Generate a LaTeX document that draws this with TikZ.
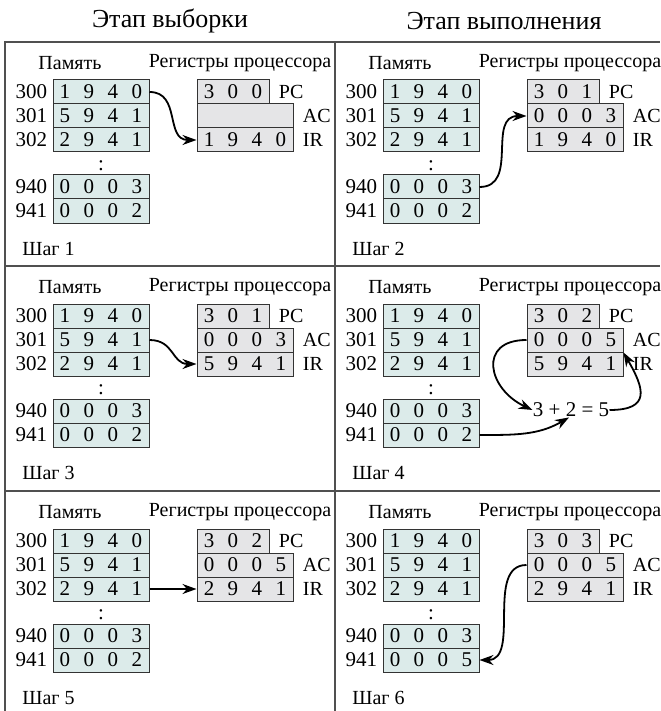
\documentclass[tikz,border=0pt]{standalone}
\usepackage{fontspec}
\setmainfont{Liberation Serif}
\usetikzlibrary{positioning,arrows.meta}

\definecolor{memfill}{RGB}{220,235,234}
\definecolor{regfill}{RGB}{229,229,231}
\definecolor{framegray}{RGB}{80,80,80}

\newcommand{\digitfont}{\fontsize{10.5}{12}\selectfont}
\newcommand{\labelfont}{\fontsize{10}{12}\selectfont}
\newcommand{\dg}[1]{\makebox[12pt]{#1}}
\newcommand{\dgfour}[4]{\dg{#1}\dg{#2}\dg{#3}\dg{#4}}
\newcommand{\dgthree}[3]{\dg{#1}\dg{#2}\dg{#3}}

\tikzset{
  memcell/.style={draw=black!80, fill=memfill, line width=0.5pt, inner sep=0pt,
    minimum width=48pt, minimum height=12pt, font=\digitfont},
  regcell/.style={memcell, fill=regfill},
  addr/.style={inner sep=0pt, font=\digitfont},
  reglbl/.style={inner sep=0pt, font=\labelfont},
  title/.style={inner sep=0pt, font=\labelfont},
  header/.style={inner sep=0pt, font=\fontsize{13}{15}\selectfont},
  frame/.style={draw=framegray, line width=1pt},
  flow/.style={-{Stealth[length=7pt,width=5pt]}, line width=0.9pt},
}

% one step: #1 step number, #2 PC, #3 AC, #4 IR, #5 cell 941
\newcommand{\panel}[5]{%
  \node[title] (mem) at (65,21) {Память};
  \node[title] (regs) at (235,21) {Регистры процессора};
  \node[memcell] (m300) at (96,50) {\dgfour1940};
  \node[memcell] (m301) at (96,74) {\dgfour5941};
  \node[memcell] (m302) at (96,98) {\dgfour2941};
  \node[addr] (dots) at (96,124) {:};
  \node[memcell] (m940) at (96,145) {\dgfour0003};
  \node[memcell] (m941) at (96,169) {#5};
  \foreach \a in {300,301,302,940,941}
    \node[addr, left=2.5pt of m\a] (a\a) {\a};
  \node[regcell, minimum width=36pt] (pc) at (228,50) {#2};
  \node[regcell] (ac) at (240,74) {#3};
  \node[regcell] (ir) at (240,98) {#4};
  \node[reglbl, right=4.5pt of pc] (pclbl) {PC};
  \node[reglbl, right=4.5pt of ac] (aclbl) {AC};
  \node[reglbl, right=4.5pt of ir] (irlbl) {IR};
  \node[title, anchor=west] (step) at (17,207) {Шаг #1};
}

\begin{document}
\begin{tikzpicture}[x=0.5pt,y=-0.5pt]
\useasboundingbox (0,0) rectangle (660,711);

\node[header] (fetch) at (170,21) {Этап выборки};
\node[header] (exec) at (504,21) {Этап выполнения};

% grid
\draw[frame] (5,711) -- (5,42) -- (660,42);
\draw[frame] (335,42) -- (335,711);
\draw[frame] (5,266) -- (660,266);
\draw[frame] (5,491) -- (660,491);

% step 1
\begin{scope}[shift={(5,42)}, name prefix=s1-]
  \panel{1}{\dgthree300}{}{\dgfour1940}{\dgfour0002}
  \draw[flow] (m300.east) to[out=0,in=180,looseness=1.2] (ir.west);
\end{scope}

% step 2
\begin{scope}[shift={(335,42)}, name prefix=s2-]
  \panel{2}{\dgthree301}{\dgfour0003}{\dgfour1940}{\dgfour0002}
  \draw[flow] (m940.east) to[out=0,in=180,looseness=1.2] (ac.west);
\end{scope}

% step 3
\begin{scope}[shift={(5,266)}, name prefix=s3-]
  \panel{3}{\dgthree301}{\dgfour0003}{\dgfour5941}{\dgfour0002}
  \draw[flow] (m301.east) to[out=0,in=180,looseness=1.2] (ir.west);
\end{scope}

% step 4
\begin{scope}[shift={(335,266)}, name prefix=s4-]
  \panel{4}{\dgthree302}{\dgfour0005}{\dgfour5941}{\dgfour0002}
  \node[addr] (sum) at (236,144) {3 + 2 = 5};
  \draw[flow] (ac.west) to[out=180,in=155,looseness=1.8] (sum.west);
  \draw[flow] (m941.east) to[out=0,in=210] (sum.255);
  \draw[flow] (sum.east) to[out=0,in=-60,looseness=1.8] (ac.south east);
\end{scope}

% step 5
\begin{scope}[shift={(5,491)}, name prefix=s5-]
  \panel{5}{\dgthree302}{\dgfour0005}{\dgfour2941}{\dgfour0002}
  \draw[flow] (m302.east) -- (ir.west);
\end{scope}

% step 6
\begin{scope}[shift={(335,491)}, name prefix=s6-]
  \panel{6}{\dgthree303}{\dgfour0005}{\dgfour2941}{\dgfour0005}
  \draw[flow] (ac.west) to[out=180,in=0] (m941.east);
\end{scope}
\end{tikzpicture}
\end{document}
